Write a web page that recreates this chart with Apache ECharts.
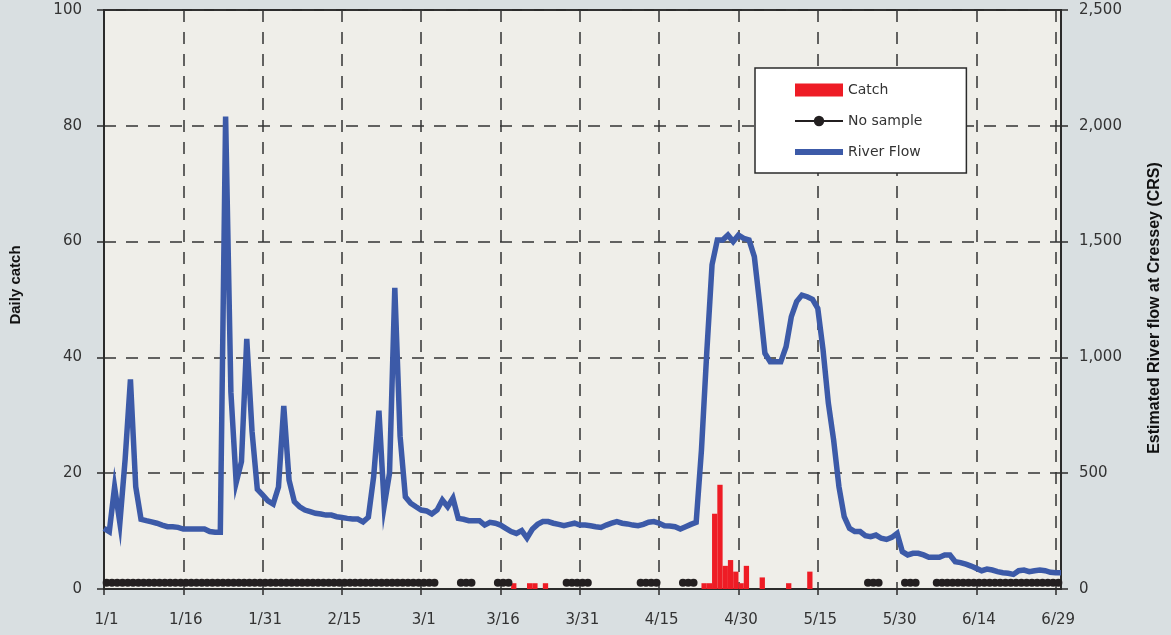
<!DOCTYPE html>
<html>
<head>
<meta charset="utf-8">
<script src="https://cdn.jsdelivr.net/npm/echarts@6/dist/echarts.min.js"></script>
<style>
  html, body { margin: 0; padding: 0; background: #d9dfe1; }
  #chart { width: 1171px; height: 635px; }
</style>
</head>
<body>
<div id="chart"></div>
<script>
// x values are day numbers counted from 1/1 (6/29 = day 180)
var dateLabels = ['1/1', '1/16', '1/31', '2/15', '3/1', '3/16', '3/31', '4/15', '4/30', '5/15', '5/30', '6/14', '6/29'];
var labelStep = 15;

// river flow, one reading per day, 1/1 .. 6/30
var riverFlow = [
  262, 248, 440, 285, 560, 905, 442, 301, 295, 290,
  284, 276, 269, 269, 266, 259, 259, 259, 259, 259,
  248, 245, 245, 2040, 850, 460, 550, 1080, 680, 430,
  406, 381, 367, 440, 790, 470, 377, 355, 341, 334,
  327, 324, 319, 319, 312, 309, 305, 302, 302, 290,
  310, 485, 770, 360, 500, 1300, 660, 398, 370, 355,
  341, 337, 324, 341, 384, 355, 392, 305, 301, 295,
  295, 295, 276, 288, 284, 276, 262, 248, 240, 252,
  220, 258, 279, 291, 291, 284, 279, 273, 279, 284,
  276, 276, 273, 269, 266, 276, 284, 291, 284, 281,
  276, 273, 279, 288, 291, 284, 273, 272, 269, 259,
  269, 279, 288, 600, 1020, 1400, 1507, 1507, 1528, 1500,
  1528, 1514, 1507, 1435, 1234, 1018, 981, 981, 981, 1046,
  1176, 1241, 1269, 1262, 1251, 1212, 1032, 802, 643, 442,
  312, 262, 248, 248, 230, 226, 233, 219, 214, 223,
  240, 161, 147, 154, 154, 147, 137, 137, 137, 147,
  147, 118, 114, 107, 99, 89, 79, 86, 82, 75,
  70, 68, 63, 79, 82, 75, 79, 82, 79, 72,
  70, 70
];

// days with a catch, and the number caught
var catchDays = [77, 80, 81, 83, 113, 114, 115, 116, 117, 118, 119, 120, 121, 124, 129, 133];
var catchCounts = [1, 1, 1, 1, 1, 1, 13, 18, 4, 5, 3, 1, 4, 2, 1, 3];

// runs of days with no sample [first day, last day]
var noSampleRuns = [[0, 62], [67, 69], [74, 76], [87, 91], [101, 104], [109, 111], [144, 146], [151, 153], [157, 180]];
var noSampleLevel = 1.1;

var font = 'DejaVu Sans';
var ink = '#2b2b2b';
var gridDash = { color: '#333', width: 1.5, type: [12, 10] };

// bars and markers sit in the middle of their day
var flowData = riverFlow.map(function(v, i){ return [i, v]; });
var catchData = catchDays.map(function(d, i){ return [d + 0.5, catchCounts[i]]; });
var noSampleData = [];
noSampleRuns.forEach(function(run){
  for (var d = run[0]; d <= run[1]; d++) {
    noSampleData.push([d + 0.5, noSampleLevel]);
  }
  noSampleData.push([run[1] + 1, null]);
});
var tickDays = dateLabels.map(function(s, i){ return i * labelStep; });

var chart = echarts.init(document.getElementById('chart'));
var option = {
  animation: false,
  backgroundColor: '#d9dfe1',
  grid: {
    left: 104, right: 108, top: 10, bottom: 46,
    show: true,
    backgroundColor: '#efeee9',
    borderColor: ink,
    borderWidth: 2
  },
  legend: {
    orient: 'vertical',
    left: 755,
    top: 68,
    itemWidth: 48,
    itemHeight: 13,
    itemGap: 17,
    padding: [15, 44, 14, 37],
    backgroundColor: '#ffffff',
    borderColor: ink,
    borderWidth: 1.5,
    textStyle: { fontFamily: font, fontSize: 14, color: '#333' },
    data: [
      { name: 'Catch', icon: 'rect' },
      { name: 'No sample' },
      {
        name: 'River Flow',
        itemStyle: { color: 'rgba(0,0,0,0)', opacity: 0, borderWidth: 0 },
        lineStyle: { color: '#3c5aa8', width: 6 }
      }
    ]
  },
  xAxis: {
    type: 'value',
    min: 0,
    max: 181,
    interval: labelStep,
    axisLine: { show: true, onZero: false, lineStyle: { color: ink, width: 2 } },
    axisTick: { show: true, length: 6, customValues: tickDays, lineStyle: { color: ink, width: 1.5 } },
    axisLabel: {
      margin: 24,
      fontFamily: font,
      fontSize: 15,
      color: '#333',
      customValues: tickDays,
      padding: [0, 0, 0, 5],
      formatter: function(v){ return v % labelStep === 0 ? dateLabels[v / labelStep] : ''; }
    },
    splitLine: { show: true, lineStyle: gridDash }
  },
  yAxis: [
    {
      type: 'value',
      min: 0,
      max: 100,
      interval: 20,
      name: 'Daily catch',
      nameLocation: 'middle',
      nameRotate: 90,
      nameGap: 81,
      nameTextStyle: { fontFamily: 'Liberation Sans', fontWeight: 'bold', fontSize: 15, color: '#111', padding: [0, 0, 0, 29] },
      axisLine: { show: true, lineStyle: { color: ink, width: 2 } },
      axisTick: { show: true, length: 7, lineStyle: { color: ink, width: 1.5 } },
      axisLabel: { margin: 22, fontFamily: font, fontSize: 15, color: '#333', padding: [7, 0, 0, 0] },
      splitLine: { show: true, lineStyle: gridDash }
    },
    {
      type: 'value',
      position: 'right',
      min: 0,
      max: 2500,
      interval: 500,
      name: 'Estimated River flow at Cressey (CRS)',
      nameLocation: 'middle',
      nameRotate: 90,
      nameGap: 86,
      nameTextStyle: { fontFamily: 'Liberation Sans', fontWeight: 'bold', fontSize: 16, color: '#111', padding: [0, 17, 0, 0] },
      axisLine: { show: true, lineStyle: { color: ink, width: 2 } },
      axisTick: { show: true, length: 7, lineStyle: { color: ink, width: 1.5 } },
      axisLabel: {
        margin: 18,
        fontFamily: font,
        fontSize: 15,
        color: '#333',
        padding: [7, 0, 0, 0],
        formatter: function(v){ return String(v).replace(/\B(?=(\d{3})+(?!\d))/g, ','); }
      },
      splitLine: { show: false }
    }
  ],
  series: [
    {
      name: 'Catch',
      type: 'bar',
      yAxisIndex: 0,
      barWidth: 5.3,
      itemStyle: { color: '#ee1c25' },
      data: catchData
    },
    {
      name: 'No sample',
      type: 'line',
      yAxisIndex: 0,
      symbol: 'circle',
      symbolSize: 8,
      connectNulls: false,
      itemStyle: { color: '#231f20' },
      lineStyle: { color: '#231f20', width: 2 },
      data: noSampleData
    },
    {
      name: 'River Flow',
      type: 'line',
      yAxisIndex: 1,
      symbol: 'none',
      lineStyle: { color: '#3c5aa8', width: 5.5, join: 'miter' },
      itemStyle: { color: '#3c5aa8' },
      z: 3,
      data: flowData
    }
  ]
};
chart.setOption(option);
</script>
</body>
</html>
